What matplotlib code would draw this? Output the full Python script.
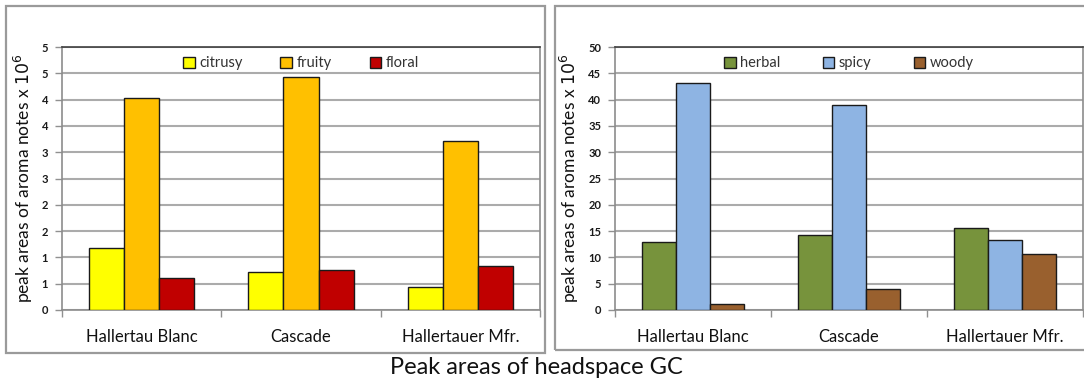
import numpy as np
import matplotlib
matplotlib.use("Agg")
import matplotlib.pyplot as plt
from matplotlib.patches import Rectangle
from matplotlib.ticker import FixedLocator, FuncFormatter

# Hop varieties
varieties = ["Hallertau Blanc", "Cascade", "Hallertauer Mfr."]

# Peak areas (x 10^6) of the aroma note groups
fruit_notes = ["citrusy", "fruity", "floral"]
citrusy = [1.17, 0.73, 0.43]
fruity = [4.03, 4.43, 3.21]
floral = [0.61, 0.76, 0.84]

spice_notes = ["herbal", "spicy", "woody"]
herbal = [13.0, 14.2, 15.5]
spicy = [43.2, 39.0, 13.4]
woody = [1.1, 3.9, 10.7]

fruit_colors = ["#FFFF00", "#FFC000", "#C00000"]
spice_colors = ["#77933C", "#8EB4E3", "#99602E"]

plt.rcParams["font.family"] = ["Lato", "DejaVu Sans"]

W, H = 1084, 381
fig = plt.figure(figsize=(W / 100, H / 100), dpi=100)


def fx(px):
    return px / W


def fy(py):
    return 1 - py / H


# panel frames
for x0, x1, y1 in [(6, 545, 353), (555, 1090, 350)]:
    fig.patches.append(Rectangle((fx(x0), fy(y1)), fx(x1 - x0), fy(6) - fy(y1),
                                 transform=fig.transFigure, fill=False,
                                 edgecolor="#9A9A9A", linewidth=1.6))


def half_up(v, pos):
    return str(int(np.floor(v + 0.5)))


def draw_panel(rect, series, names, colors, ymax, step, fmt, colspace):
    ax = fig.add_axes(rect)
    x = np.arange(len(varieties))
    w = 0.22
    for i, (vals, name, col) in enumerate(zip(series, names, colors)):
        ax.bar(x + (i - 1) * w, vals, width=w, color=col, edgecolor="#1a1a1a",
               linewidth=1.0, label=name, zorder=3)
    ax.set_xlim(-0.5, len(varieties) - 0.5)
    ax.set_ylim(0, ymax)
    ax.yaxis.set_major_locator(FixedLocator(np.arange(0, ymax + step / 2, step)))
    ax.yaxis.set_major_formatter(fmt)
    ax.grid(axis="y", color="#ABABAB", linewidth=1.5, zorder=0)
    ax.set_axisbelow(True)
    ax.set_xticks(x)
    ax.set_xticklabels(varieties, fontsize=12, color="#111111")
    ax.set_xticks(np.arange(-0.5, len(varieties)), minor=True)
    ax.tick_params(axis="x", which="major", length=0, pad=14)
    ax.tick_params(axis="x", which="minor", length=5, color="#909090", width=1)
    ax.tick_params(axis="y", length=5, color="#909090", width=1, labelsize=8,
                   pad=5, labelcolor="#1a1a1a")
    for lab in ax.get_yticklabels():
        lab.set_fontweight("bold")
    for side in ("left", "bottom", "right"):
        ax.spines[side].set_color("#8C8C8C")
        ax.spines[side].set_linewidth(1.2)
    ax.spines["top"].set_color("#404040")
    ax.spines["top"].set_linewidth(1.2)
    ax.set_ylabel("peak areas of aroma notes x $10^6$", fontsize=12.5,
                  color="#111111", labelpad=5)
    leg = ax.legend(loc="upper center", bbox_to_anchor=(0.5, 1.0), ncol=3,
                    frameon=False, fontsize=10.5, handlelength=0.8,
                    handleheight=0.8, handletextpad=0.3, columnspacing=colspace,
                    borderaxespad=0.25)
    for t in leg.get_texts():
        t.set_color("#333333")
    return ax


ax1 = draw_panel([fx(62), fy(310), fx(540 - 62), fy(47) - fy(310)],
                 [citrusy, fruity, floral], fruit_notes, fruit_colors,
                 5, 0.5, FuncFormatter(half_up), 2.6)
ax2 = draw_panel([fx(615), fy(310), fx(1083 - 615), fy(47) - fy(310)],
                 [herbal, spicy, woody], spice_notes, spice_colors,
                 50, 5, FuncFormatter(lambda v, p: f"{v:.0f}"), 2.9)

fig.text(fx(536), fy(368), "Peak areas of headspace GC", ha="center",
         va="center", fontsize=17, color="#111111")

fig.savefig("out.png", dpi=100)
